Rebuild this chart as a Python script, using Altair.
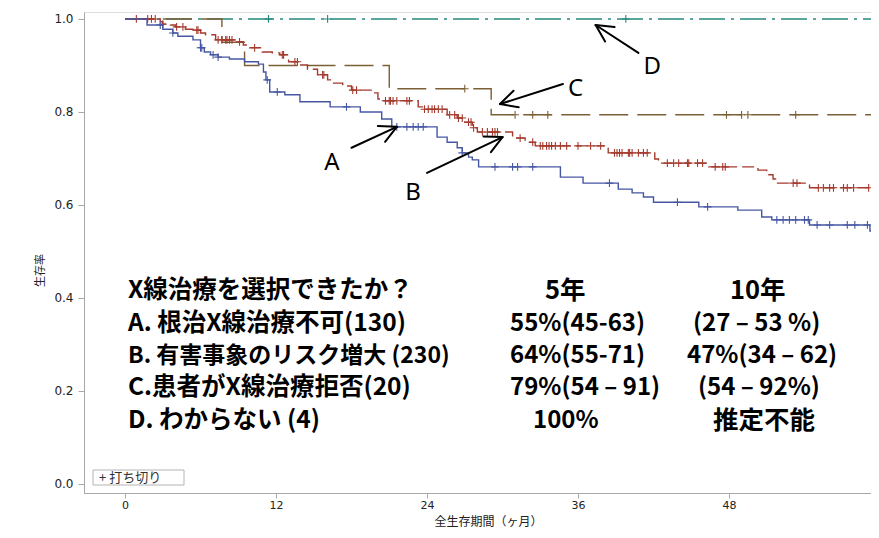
import altair as alt
import pandas as pd
import numpy as np

# ---------------- data ----------------
groups = ["A", "B", "C", "D"]

# A: 根治X線治療不可 (130)
a_time = [1.75, 3.0, 3.8, 4.2, 5.4, 6.0, 6.3, 6.8, 7.4, 8.3, 9.5, 10.6, 11.0, 11.2, 11.5,
          12.7, 13.9, 16.3, 18.7, 20.4, 21.2, 24.8, 25.6, 26.4, 26.8, 27.3, 27.6, 28.1,
          34.6, 36.4, 39.2, 40.3, 41.2, 42.0, 45.6, 48.7, 50.6, 51.4, 54.4, 59.2]
a_surv = [0.987, 0.978, 0.970, 0.963, 0.955, 0.938, 0.929, 0.923, 0.918, 0.914, 0.908,
          0.903, 0.886, 0.869, 0.843, 0.837, 0.822, 0.811, 0.800, 0.785, 0.768, 0.746,
          0.735, 0.723, 0.712, 0.703, 0.697, 0.682, 0.660, 0.647, 0.634, 0.626, 0.617,
          0.606, 0.596, 0.589, 0.574, 0.568, 0.557, 0.544]
a_cens = [2.8, 3.8, 6.0, 6.1, 7.0, 7.4, 11.3, 12.1, 17.6, 21.6, 22.4, 22.9, 23.3, 23.7,
          26.8, 29.4, 30.8, 31.2, 32.4, 38.5, 43.9, 46.3, 51.8, 52.3, 52.8, 53.3, 54.0,
          54.3, 55.0, 56.0, 57.4, 58.0, 59.0]

# B: 有害事象のリスク増大 (230)
b_time = [2.8, 3.0, 3.6, 4.0, 4.8, 5.4, 6.0, 6.4, 7.2, 8.7, 9.4, 9.9, 10.9, 11.7, 12.3,
          13.0, 13.9, 14.5, 15.3, 16.1, 16.5, 17.3, 18.0, 19.7, 20.1, 20.4, 23.3, 23.7,
          25.6, 26.4, 27.0, 27.6, 28.0, 30.8, 31.8, 32.6, 38.4, 42.1, 42.4, 46.3, 50.3,
          51.0, 51.5, 51.7, 54.4]
b_surv = [0.994, 0.989, 0.987, 0.983, 0.978, 0.976, 0.970, 0.966, 0.955, 0.951, 0.944,
          0.938, 0.929, 0.927, 0.923, 0.908, 0.901, 0.892, 0.880, 0.869, 0.862, 0.856,
          0.847, 0.841, 0.828, 0.824, 0.811, 0.806, 0.794, 0.787, 0.778, 0.766, 0.757,
          0.744, 0.735, 0.727, 0.712, 0.699, 0.690, 0.682, 0.675, 0.665, 0.656, 0.647,
          0.637]
b_cens = [0.9, 1.8, 2.1, 2.4, 3.0, 4.1, 4.6, 5.7, 5.8, 7.4, 7.7, 8.0, 8.1, 8.3, 8.5, 9.1,
          10.3, 12.5, 12.6, 13.5, 13.7, 15.7, 15.8, 18.1, 18.4, 20.7, 21.0, 21.1, 21.3,
          21.6, 22.4, 22.6, 23.8, 24.1, 24.4, 24.6, 24.9, 25.2, 25.8, 26.2, 26.5, 26.8,
          27.3, 27.5, 27.7, 28.4, 28.8, 29.2, 29.4, 29.6, 31.4, 32.4, 33.0, 33.2, 33.5,
          33.7, 33.9, 34.2, 34.6, 35.1, 36.0, 37.0, 37.8, 38.9, 39.1, 39.3, 39.5, 40.0,
          40.1, 40.3, 40.8, 41.2, 41.5, 43.1, 43.6, 44.0, 44.7, 44.8, 45.5, 45.9, 46.9,
          47.5, 47.7, 53.1, 53.4, 55.1, 55.5, 56.0, 56.3, 57.1, 57.4, 57.9, 59.1]

# C: 患者がX線治療拒否 (20)
c_time = [7.7, 9.5, 21.0, 29.1]
c_surv = [0.95, 0.90, 0.85, 0.794]
c_cens = [27.0, 31.0, 32.4, 33.6, 47.8, 49.0, 49.5, 53.3]

# D: わからない (4)
d_time = []
d_surv = []
d_cens = [11.4, 16.1, 39.8]

follow_up_end = 62.0

x_ticks = [0, 12, 24, 36, 48, 60]
y_ticks = [0.0, 0.2, 0.4, 0.6, 0.8, 1.0]

table_left = ["X線治療を選択できたか？", "A. 根治X線治療不可(130)",
              "B. 有害事象のリスク増大 (230)", "C.患者がX線治療拒否(20)",
              "D. わからない (4)"]
table_5y = ["5年", "55%(45-63)", "64%(55-71)", "79%(54 – 91)", "100%"]
table_10y = ["10年", "(27 – 53 %)", "47%(34 – 62)", "(54 – 92%)", "推定不能"]

# ---------------- build tables ----------------
steps = {"A": (a_time, a_surv, a_cens), "B": (b_time, b_surv, b_cens),
         "C": (c_time, c_surv, c_cens), "D": (d_time, d_surv, d_cens)}

line_rows, cens_rows = [], []
for g, (t, s, c) in steps.items():
    tt = [0.0] + list(t)
    ss = [1.0] + list(s)
    for ti, si in zip(tt, ss):
        line_rows.append({"group": g, "time": ti, "surv": si})
    line_rows.append({"group": g, "time": follow_up_end, "surv": ss[-1]})
    for ci in c:
        idx = int(np.searchsorted(np.array(tt), ci, side="right")) - 1
        cens_rows.append({"group": g, "time": ci, "surv": ss[idx]})
lines_df = pd.DataFrame(line_rows)
cens_df = pd.DataFrame(cens_rows)

# ---------------- layout ----------------
W, H = 787, 481
XMIN = -3.26
XMAX = XMIN + W / 12.583
YMAX = 1.015
YMIN = YMAX - H / 465.0

colors = ["#4656a3", "#a53a2e", "#7d5f35", "#24887c"]
dashes = [[1, 0], [12, 5], [29, 9], [26, 6, 3, 6]]

xs = alt.Scale(domain=[XMIN, XMAX], nice=False, zero=False)
ys = alt.Scale(domain=[YMIN, YMAX], nice=False, zero=False)
cs = alt.Scale(domain=groups, range=colors)
ds = alt.Scale(domain=groups, range=dashes)

x_enc = alt.X("time:Q", scale=xs, axis=alt.Axis(
    values=x_ticks, title="全生存期間（ヶ月）", grid=False, tickSize=5, labelPadding=1,
    labelFlush=False, labelOverlap=False, titleX=404, titleY=28, titleBaseline="middle",
    titleFontWeight="normal", titleFontSize=12, titleFont="Noto Sans CJK JP",
    titleColor="#222", labelFont="DejaVu Sans", labelFontSize=11, labelColor="#222",
    domainColor="#a8a8a8", tickColor="#a8a8a8"))
y_enc = alt.Y("surv:Q", scale=ys, axis=alt.Axis(
    values=y_ticks, format=".1f", title="生存率", grid=False, tickSize=6, labelPadding=5,
    labelFlush=False, titleX=-44, titleY=258, titleAlign="center", titleBaseline="middle",
    titleFontWeight="normal", titleFontSize=11, titleFont="Noto Sans CJK JP",
    titleColor="#222", labelFont="DejaVu Sans", labelFontSize=12, labelColor="#222",
    domainColor="#a8a8a8", tickColor="#a8a8a8"))

layers = []
for g in ["D", "C", "B", "A"]:
    layers.append(
        alt.Chart(lines_df[lines_df.group == g]).mark_line(
            interpolate="step-after", strokeWidth=1.4, clip=True
        ).encode(x=x_enc, y=y_enc,
                 color=alt.Color("group:N", scale=cs, legend=None),
                 strokeDash=alt.StrokeDash("group:N", scale=ds, legend=None))
    )
    layers.append(
        alt.Chart(cens_df[cens_df.group == g]).mark_point(
            shape="M0,-1L0,1M-1,0L1,0", filled=False, size=60, strokeWidth=1.1, opacity=1,
            clip=True
        ).encode(x="time:Q", y="surv:Q",
                 color=alt.Color("group:N", scale=cs, legend=None))
    )

# ---- arrows (in data units) ----
arrow_tail = {"A": (18.0, 0.723), "B": (24.0, 0.669), "C": (34.8, 0.860), "D": (40.8, 0.927)}
arrow_tip = {"A": (21.6, 0.768), "B": (30.0, 0.746), "C": (29.8, 0.817), "D": (37.4, 0.987)}
label_pos = {"A": (16.45, 0.690), "B": (22.9, 0.626), "C": (35.8, 0.849), "D": (41.9, 0.897)}

kx = W / (XMAX - XMIN)
ky = H / (YMAX - YMIN)


def to_px(p):
    return np.array([(p[0] - XMIN) * kx, (YMAX - p[1]) * ky])


def to_data(q):
    return (q[0] / kx + XMIN, YMAX - q[1] / ky)


seg_rows = []
for g in groups:
    t0, t1 = to_px(arrow_tail[g]), to_px(arrow_tip[g])
    seg_rows.append({"m1": arrow_tail[g][0], "s1": arrow_tail[g][1],
                     "m2": arrow_tip[g][0], "s2": arrow_tip[g][1]})
    back = (t0 - t1) / np.linalg.norm(t0 - t1)
    for ang in (np.radians(27), -np.radians(27)):
        rot = np.array([back[0] * np.cos(ang) - back[1] * np.sin(ang),
                        back[0] * np.sin(ang) + back[1] * np.cos(ang)])
        w = to_data(t1 + rot * 19)
        seg_rows.append({"m1": arrow_tip[g][0], "s1": arrow_tip[g][1], "m2": w[0], "s2": w[1]})
seg_df = pd.DataFrame(seg_rows)

layers.append(
    alt.Chart(seg_df).mark_rule(color="black", strokeWidth=2, strokeCap="round").encode(
        x=alt.X("m1:Q"), y=alt.Y("s1:Q"), x2="m2:Q", y2="s2:Q")
)
lab_df = pd.DataFrame({"lab": groups, "m": [label_pos[g][0] for g in groups],
                       "s": [label_pos[g][1] for g in groups]})
layers.append(
    alt.Chart(lab_df).mark_text(font="Noto Sans", fontSize=24, color="black",
                                baseline="middle", align="center").encode(
        x="m:Q", y="s:Q", text="lab:N")
)

# ---- text table (pixel layout inside plot area) ----
row_y = [279, 312, 344, 376, 409]
left_x = [44, 44, 44, 44, 44]
left_size = [24.5, 24.5, 23, 24.5, 24.5]
col5_x = [461, 426, 426, 426, 449]
col5_size = [25.5, 24, 24, 24, 24]
col10_x = [646, 609, 603, 614, 629]
col10_size = [25.5, 24, 24, 24, 25.5]


def txt(s, x, y, size):
    return alt.Chart(pd.DataFrame({"t": [s]})).mark_text(
        font="Noto Sans CJK JP", fontWeight="bold", fontSize=size, color="black",
        align="left", baseline="middle").encode(
        x=alt.value(x), y=alt.value(y), text="t:N")


for texts, xs_, sz in ((table_left, left_x, left_size), (table_5y, col5_x, col5_size),
                       (table_10y, col10_x, col10_size)):
    for s, x, y, f in zip(texts, xs_, row_y, sz):
        layers.append(txt(s, x, y, f))

# ---- censoring legend box ----
layers.append(
    alt.Chart(pd.DataFrame({"k": [0]})).mark_rect(
        fill="white", stroke="#b4b4b4", strokeWidth=1).encode(
        x=alt.value(9), x2=alt.value(100), y=alt.value(458), y2=alt.value(473))
)
layers.append(
    alt.Chart(pd.DataFrame({"t": ["+ 打ち切り"]})).mark_text(
        font="Noto Sans CJK JP", fontSize=13, color="#333", align="left",
        baseline="middle").encode(x=alt.value(15), y=alt.value(465.5), text="t:N")
)

chart = alt.layer(*layers).properties(
    width=W, height=H,
    padding={"left": 76, "top": 4, "right": 0, "bottom": 37},
    autosize=alt.AutoSizeParams(type="none"),
).configure_view(stroke="#a8a8a8", strokeWidth=1).configure(background="white")

chart.save("out.html", embed_options={"renderer": "svg", "actions": False})
